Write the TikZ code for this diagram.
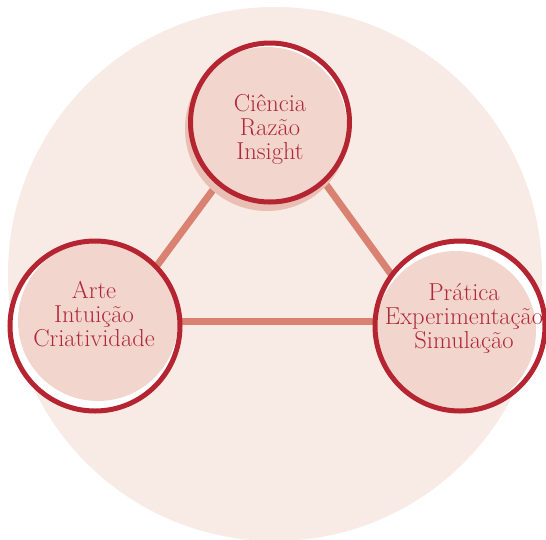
\documentclass[tikz,border=0pt]{standalone}
\usepackage{fontspec}
\definecolor{bgpink}{HTML}{F8EAE5}
\definecolor{fillpink}{HTML}{F2D6CE}
\definecolor{shadowpink}{HTML}{E9BFB3}
\definecolor{ringred}{HTML}{B52431}
\definecolor{linecoral}{HTML}{D98272}
\definecolor{textred}{HTML}{B0283A}
\tikzset{
  conn/.style={draw=linecoral, line width=7pt},
  ringnode/.style={circle, draw=ringred, line width=5pt, inner sep=0pt, outer sep=0pt},
  lbl/.style={text=textred, align=center, inner sep=0pt, font=\fontsize{24.5}{24}\selectfont\addfontfeatures{FakeBold=0.3}}
}
\begin{document}
\begin{tikzpicture}[x=1pt,y=-1pt]
\useasboundingbox (0,0) rectangle (546,539);
\fill[bgpink] (275,274) circle (267pt);
% connectors
\coordinate (ta) at (272,110);
\coordinate (tl) at (116,321);
\coordinate (tr) at (425,321);
\draw[conn] (ta) -- (tl);
\draw[conn] (ta) -- (tr);
\draw[conn] (tl) -- (tr);
% top circle
\fill[shadowpink] (267,129) circle (82pt);
\fill[white] (270,122.5) circle (80pt);
\begin{scope}
  \clip (270,122.5) circle (80pt);
  \fill[fillpink] (267,127) circle (80pt);
\end{scope}
\node[ringnode, minimum size=159pt] (ciencia) at (270,122.5) {};
\node[lbl] (cienciaT) at (270,129) {Ciência\\Razão\\Insight};
% left circle
\fill[white] (95,326) circle (85pt);
\begin{scope}
  \clip (95,326) circle (85pt);
  \fill[fillpink] (98,321) circle (80pt);
\end{scope}
\node[ringnode, minimum size=170pt] (arte) at (95,326) {};
\node[lbl] (arteT) at (94,314) {Arte\\Intuição\\Criatividade};
% right circle
\fill[white] (460,326) circle (85pt);
\begin{scope}
  \clip (460,326) circle (85pt);
  \fill[fillpink] (456,331) circle (80pt);
\end{scope}
\node[ringnode, minimum size=170pt] (pratica) at (460,326) {};
\node[lbl] (praticaT) at (464,318) {Prática\\Experimentação\\Simulação};
\end{tikzpicture}
\end{document}
